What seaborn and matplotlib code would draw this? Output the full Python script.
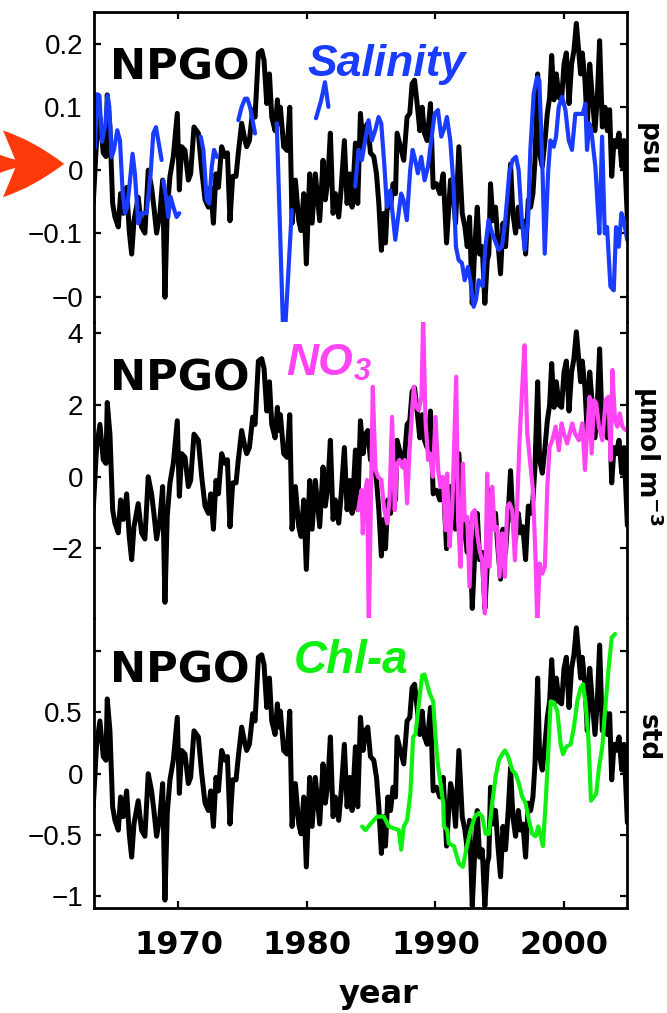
import numpy as np
import pandas as pd
import matplotlib
matplotlib.use("Agg")
import matplotlib.pyplot as plt
import seaborn as sns

# NPGO index (std units)
npgo_year = [1963.37, 1963.63, 1963.89, 1964.15, 1964.36, 1964.46, 1964.67, 1964.88, 1965.06, 1965.32,
             1965.50, 1965.71, 1965.97, 1966.17, 1966.36, 1966.54, 1966.87, 1967.13, 1967.39, 1967.65,
             1967.91, 1968.09, 1968.30, 1968.56, 1968.77, 1968.95, 1969.13, 1969.34, 1969.60, 1969.91,
             1970.07, 1970.25, 1970.51, 1970.77, 1970.95, 1971.21, 1971.55, 1971.81, 1972.07, 1972.33,
             1972.51, 1972.72, 1972.92, 1973.11, 1973.36, 1973.62, 1973.81, 1974.01, 1974.22, 1974.48,
             1974.66, 1974.92, 1975.18, 1975.31, 1975.52, 1975.78, 1975.96, 1976.22, 1976.48, 1976.66,
             1976.87, 1977.08, 1977.26, 1977.52, 1977.70, 1977.80, 1977.93, 1978.19, 1978.45, 1978.66,
             1978.84, 1979.10, 1979.36, 1979.54, 1979.75, 1979.95, 1980.21, 1980.40, 1980.65, 1980.84,
             1980.99, 1981.25, 1981.43, 1981.62, 1981.82, 1982.03, 1982.21, 1982.47, 1982.65, 1982.91,
             1983.12, 1983.33, 1983.51, 1983.77, 1983.95, 1984.16, 1984.37, 1984.55, 1984.73, 1984.94,
             1985.20, 1985.41, 1985.59, 1985.79, 1985.98, 1986.11, 1986.29, 1986.50, 1986.70, 1986.89,
             1987.01, 1987.27, 1987.53, 1987.79, 1988.00, 1988.18, 1988.37, 1988.57, 1988.78, 1988.96,
             1989.14, 1989.35, 1989.61, 1989.82, 1990.08, 1990.34, 1990.60, 1990.86, 1991.17, 1991.35,
             1991.56, 1991.82, 1992.08, 1992.29, 1992.47, 1992.65, 1992.86, 1993.06, 1993.25, 1993.43,
             1993.64, 1993.84, 1994.03, 1994.15, 1994.28, 1994.47, 1994.67, 1994.86, 1995.06, 1995.25,
             1995.45, 1995.66, 1995.84, 1996.02, 1996.23, 1996.44, 1996.62, 1996.80, 1997.01, 1997.22,
             1997.40, 1997.58, 1997.74, 1997.95, 1998.10, 1998.31, 1998.52, 1998.70, 1998.88, 1999.04,
             1999.22, 1999.40, 1999.61, 1999.81, 2000.00, 2000.18, 2000.39, 2000.59, 2000.77, 2000.96,
             2001.11, 2001.29, 2001.42, 2001.63, 2001.81, 2002.00, 2002.20, 2002.41, 2002.59, 2002.77,
             2002.98, 2003.19, 2003.37, 2003.55, 2003.71, 2003.89, 2004.07, 2004.28, 2004.49, 2004.67,
             2004.93]
npgo = [-0.27, 0.24, 0.43, 0.14, 0.11, 0.61, 0.35, -0.27, -0.38, -0.46,
        -0.19, -0.35, -0.14, -0.49, -0.68, -0.41, -0.22, -0.46, -0.51, 0.00,
        -0.14, -0.30, -0.51, -0.35, -0.08, -1.03, -0.32, -0.05, 0.11, 0.46,
        -0.16, 0.19, 0.16, -0.08, -0.03, 0.35, 0.30, 0.00, -0.24, -0.30,
        -0.14, -0.43, -0.03, -0.14, 0.19, 0.11, 0.14, -0.41, -0.05, -0.05,
        0.14, 0.38, 0.24, 0.19, 0.24, 0.49, 0.43, 0.95, 0.97, 0.89,
        0.54, 0.78, 0.43, 0.32, 0.57, 0.38, 0.51, 0.19, 0.16, 0.51,
        -0.43, -0.08, -0.41, -0.49, -0.19, -0.76, -0.03, -0.43, -0.03, -0.24,
        -0.41, 0.08, -0.24, -0.08, 0.30, -0.35, -0.19, -0.38, -0.16, 0.24,
        -0.27, -0.03, -0.30, 0.22, -0.27, 0.46, 0.19, 0.35, 0.38, 0.14,
        0.11, -0.03, -0.27, -0.65, -0.35, -0.59, -0.19, -0.30, -0.11, -0.19,
        0.30, 0.19, 0.08, 0.43, 0.46, 0.70, 0.73, 0.54, 0.32, 0.51,
        0.30, 0.24, 0.54, -0.14, -0.11, -0.19, -0.03, -0.59, -0.08, -0.16,
        -0.43, 0.19, -0.35, -0.46, -0.62, -0.38, -1.08, -0.62, -0.30, -0.68,
        -0.62, -1.08, -0.73, -0.68, -0.11, -0.41, -0.30, -0.59, -0.84, -0.43,
        -0.62, -0.30, 0.05, -0.35, -0.51, -0.30, -0.46, -0.41, -0.68, -0.24,
        -0.30, -0.19, 0.08, 0.78, 0.14, 0.03, 0.24, 0.46, 0.59, 0.93,
        0.57, 0.78, 0.59, 0.57, 0.86, 0.95, 0.54, 0.86, 0.97, 1.19,
        1.00, 0.78, 0.95, 0.73, 0.35, 0.86, 0.59, 0.32, 0.59, 1.05,
        0.35, 0.51, 0.32, 0.49, -0.05, 0.24, 0.19, 0.30, 0.03, 0.24,
        -0.40]

# salinity (psu), NaN marks gaps in the record
sal_year = [1963.37, 1963.50, 1963.68, 1963.85, 1964.05, 1964.30, 1964.48, 1964.62, 1964.80, 1964.98,
            1965.24, 1965.45, 1965.65, 1965.84, 1966.02, 1966.23, 1966.43, 1966.61, 1966.87, 1967.13,
            1967.52, 1967.84, 1968.04, 1968.25, 1968.43, 1968.69, np.nan,
            1968.82, 1969.03, 1969.21, 1969.39, 1969.60, 1969.86, 1970.07, np.nan,
            1971.73, 1971.94, 1972.20, 1972.40, 1972.59, 1972.77, 1972.98, np.nan,
            1974.66, 1974.92, 1975.18, 1975.36, 1975.57, 1975.96, np.nan,
            1977.65, 1978.20, 1978.82, np.nan,
            1980.70, 1981.10, 1981.40, 1981.67, np.nan,
            1983.75, 1984.01, 1984.27, 1984.53, 1984.79, 1985.05, 1985.31, 1985.57, 1985.78, 1986.03,
            1986.22, 1986.48, 1986.66, 1986.87, 1987.13, 1987.33, 1987.51, 1987.77, 1988.03, 1988.22,
            1988.42, 1988.63, 1988.89, 1989.15, 1989.41, 1989.67, 1989.93, 1990.19, 1990.45, 1990.71,
            1990.89, 1991.15, 1991.41, 1991.59, 1991.80, 1992.06, 1992.27, 1992.52, 1992.71, 1992.97,
            1993.15, 1993.36, 1993.67, 1993.88, 1994.13, 1994.34, 1994.60, 1994.91, 1995.17, 1995.43,
            1995.74, 1996.00, 1996.26, 1996.47, 1996.68, 1996.94, 1997.20, 1997.38, 1997.64, 1997.90,
            1998.08, 1998.29, 1998.50, 1998.76, 1998.94, 1999.20, 1999.38, 1999.59, 1999.85, 2000.11,
            2000.37, 2000.62, 2000.88, 2001.20, 2001.46, 2001.66, 2001.79, 2001.97, 2002.18, 2002.44,
            2002.65, 2002.75, 2002.96, 2003.17, 2003.35, 2003.61, 2003.87, 2004.05, 2004.26, 2004.47,
            2004.65, 2004.91]
sal_psu = [0.050, 0.035, 0.120, 0.118, 0.045, 0.070, 0.118, 0.100, 0.021, 0.032,
           0.063, 0.047, -0.032, -0.068, -0.058, -0.016, 0.026, -0.005, -0.084, -0.068,
           -0.068, -0.005, 0.058, 0.068, 0.047, 0.016, np.nan,
           -0.016, -0.042, -0.074, -0.042, -0.058, -0.074, -0.068, np.nan,
           0.053, 0.032, -0.047, -0.053, 0.005, 0.032, 0.021, np.nan,
           0.079, 0.100, 0.113, 0.113, 0.100, 0.058, np.nan,
           0.074, -0.290, -0.063, np.nan,
           0.082, 0.110, 0.139, 0.100, np.nan,
           -0.026, 0.032, 0.016, 0.047, 0.079, 0.047, 0.063, 0.084, 0.074, 0.005,
           -0.058, -0.032, -0.068, -0.110, -0.068, -0.037, -0.047, -0.079, 0.000, 0.032,
           0.016, -0.005, 0.021, -0.016, 0.005, 0.047, 0.089, 0.095, 0.053, 0.068,
           0.084, 0.047, -0.026, -0.121, -0.142, -0.147, -0.174, -0.153, -0.174, -0.216,
           -0.205, -0.174, -0.184, -0.121, -0.079, -0.095, -0.110, -0.126, -0.121, -0.079,
           -0.005, 0.016, 0.021, 0.000, -0.068, -0.126, -0.079, 0.032, 0.121, 0.147,
           0.142, 0.026, -0.132, -0.005, 0.047, 0.037, 0.053, 0.100, 0.116, 0.095,
           0.047, 0.032, 0.089, 0.089, 0.089, 0.105, 0.032, 0.074, 0.053, 0.005,
           -0.068, -0.100, 0.053, -0.100, -0.090, -0.184, -0.190, -0.090, -0.121, -0.068,
           -0.079, -0.110]

# nitrate (umol m-3)
no3_year = [1983.98, 1984.24, 1984.34, 1984.50, 1984.68, 1984.81, 1985.12, 1985.33, 1985.53, 1985.79,
            1985.98, 1986.24, 1986.42, 1986.62, 1986.83, 1987.01, 1987.20, 1987.40, 1987.61, 1987.79,
            1987.97, 1988.18, 1988.31, 1988.49, 1988.70, 1988.91, 1989.04, 1989.22, 1989.43, 1989.61,
            1989.79, 1990.00, 1990.21, 1990.39, 1990.57, 1990.78, 1990.91, 1991.09, 1991.30, 1991.61,
            1991.76, 1991.95, 1992.13, 1992.28, 1992.47, 1992.65, 1992.85, 1993.06, 1993.24, 1993.43,
            1993.63, 1993.84, 1994.02, 1994.21, 1994.41, 1994.62, 1994.80, 1994.98, 1995.19, 1995.40,
            1995.58, 1995.76, 1995.97, 1996.18, 1996.36, 1996.54, 1996.75, 1996.93, 1997.14, 1997.40,
            1997.58, 1997.79, 1997.92, 1998.10, 1998.31, 1998.51, 1998.70, 1998.88, 1999.09, 1999.35,
            1999.60, 1999.81, 1999.99, 2000.25, 2000.44, 2000.64, 2000.85, 2001.16, 2001.42, 2001.63,
            2001.81, 2001.99, 2002.15, 2002.33, 2002.51, 2002.72, 2002.98, 2003.24, 2003.45, 2003.63,
            2003.76, 2003.97, 2004.15, 2004.33, 2004.54, 2004.80]
no3 = [-0.93, -0.37, -1.58, -0.47, -0.09, -4.30, 2.51, 0.19, 0.00, -0.09,
       -0.84, -1.30, -0.65, 1.67, -0.93, 0.37, 0.47, 0.28, 0.47, -0.74,
       0.65, 1.86, 2.51, 1.95, 1.86, 2.23, 4.50, 1.58, 0.47, 0.65,
       0.00, 1.67, 0.19, -0.28, 0.00, -1.49, 0.09, -1.95, -0.93, 2.79,
       -1.21, -2.51, 0.37, -1.21, -1.12, -3.07, -1.02, -0.93, -1.58, -2.05,
       -2.33, -3.81, 0.09, -2.51, -0.28, -1.49, -1.40, -2.79, -1.58, -2.79,
       -0.84, -0.74, -0.93, -2.33, -0.74, 1.02, 2.51, 3.67, 1.21, 0.28,
       -0.37, -2.33, -4.20, -2.42, -2.70, -2.51, -0.28, 0.84, 1.02, 1.40,
       0.74, 1.49, 1.21, 0.93, 1.21, 1.49, 1.21, 1.02, 1.49, 0.19,
       1.30, 2.23, 0.65, 2.14, 2.05, 1.40, 1.02, 2.14, 2.23, 0.47,
       2.98, 1.58, 1.40, 1.77, 1.40, 1.30]

# chlorophyll-a (std)
chl_year = [1984.29, 1984.55, 1984.94, 1985.46, 1985.98, 1986.37, 1986.89, 1987.14, 1987.33, 1987.53,
            1987.79, 1988.05, 1988.26, 1988.44, 1988.70, 1988.96, 1989.14, 1989.35, 1989.56, 1989.82,
            1990.00, 1990.18, 1990.39, 1990.60, 1990.65, 1990.91, 1991.04, 1991.43, 1991.82, 1992.13,
            1992.39, 1992.73, 1993.06, 1993.38, 1993.64, 1993.90, 1994.15, 1994.41, 1994.67, 1994.93,
            1995.19, 1995.40, 1995.66, 1995.97, 1996.23, 1996.49, 1996.75, 1997.01, 1997.27, 1997.53,
            1997.79, 1998.00, 1998.18, 1998.36, 1998.57, 1998.78, 1998.96, 1999.22, 1999.48, 1999.74,
            1999.92, 2000.18, 2000.52, 2000.77, 2001.03, 2001.29, 2001.48, 2001.68, 2001.89, 2001.99,
            2002.10, 2002.33, 2002.51, 2002.72, 2002.98, 2003.19, 2003.45, 2003.71, 2003.97]
chl = [-0.43, -0.46, -0.41, -0.35, -0.35, -0.43, -0.45, -0.46, -0.62, -0.43,
       -0.38, -0.16, 0.30, 0.32, 0.57, 0.80, 0.81, 0.73, 0.65, 0.59,
       0.30, 0.08, -0.08, -0.24, -0.43, -0.46, -0.57, -0.59, -0.73, -0.76,
       -0.62, -0.46, -0.35, -0.32, -0.35, -0.49, -0.49, -0.24, -0.03, 0.11,
       0.16, 0.19, 0.14, 0.03, 0.00, -0.08, -0.19, -0.24, -0.38, -0.49,
       -0.51, -0.43, -0.51, -0.59, -0.24, 0.19, 0.59, 0.58, 0.51, 0.24,
       0.16, 0.22, 0.24, 0.38, 0.59, 0.70, 0.73, 0.57, 0.30, 0.05,
       -0.22, -0.19, -0.16, 0.05, 0.22, 0.51, 0.84, 1.11, 1.14]

# NPGO is drawn in the units of each panel
npgo_scale = [0.195, 3.4, 1.0]

BLUE = "#1a3cff"
PINK = "#ff44f4"
GREEN = "#10f010"

sns.set_style("ticks")
plt.rcParams["font.family"] = ["Liberation Sans", "DejaVu Sans"]
plt.rcParams["mathtext.fontset"] = "dejavusans"
for key in ["text.color", "axes.labelcolor", "xtick.color", "ytick.color", "axes.edgecolor"]:
    plt.rcParams[key] = "black"

fig = plt.figure(figsize=(6.67, 10.13), dpi=100)
left, width = 94 / 667, 533 / 667
ax1 = fig.add_axes([left, (1013 - 322) / 1013, width, 310 / 1013])
ax2 = fig.add_axes([left, (1013 - 618) / 1013, width, 296 / 1013])
ax3 = fig.add_axes([left, (1013 - 908) / 1013, width, 290 / 1013])
axes = [ax1, ax2, ax3]

npgo_df = pd.DataFrame({"year": npgo_year, "npgo": npgo})

sal_df = pd.DataFrame({"year": sal_year, "val": sal_psu})
sal_df["seg"] = sal_df["val"].isna().cumsum()
sal_df = sal_df.dropna()
no3_df = pd.DataFrame({"year": no3_year, "val": no3, "seg": 0})
chl_df = pd.DataFrame({"year": chl_year, "val": chl, "seg": 0})

series = [(sal_df, BLUE), (no3_df, PINK), (chl_df, GREEN)]
ylims = [(-0.24, 0.25), (-3.94, 4.32), (-1.095, 1.27)]
yticks = [[-0.2, -0.1, 0, 0.1, 0.2], [-2, 0, 2, 4], [-1, -0.5, 0, 0.5, 1]]
yticklabels = [["\u22120", "\u22120.1", "0", "0.1", "0.2"],
               ["\u22122", "0", "2", "4"],
               ["\u22121", "\u22120.5", "0", "0.5", ""]]
units = ["psu", "\u00b5mol m$^{\\mathbf{-3}}$", "std"]
unit_y = [0.555, 0.547, 0.586]

for i, ax in enumerate(axes):
    d = npgo_df.copy()
    d["npgo"] = d["npgo"] * npgo_scale[i]
    sns.lineplot(data=d, x="year", y="npgo", color="black", linewidth=3.6,
                 estimator=None, sort=False, ax=ax)
    df, col = series[i]
    sns.lineplot(data=df, x="year", y="val", units="seg", color=col, linewidth=3.0,
                 estimator=None, sort=False, ax=ax)
    ax.set_xlim(1963.43, 2004.9)
    ax.set_ylim(*ylims[i])
    ax.set_yticks(yticks[i])
    ax.set_yticklabels(yticklabels[i])
    ax.set_xticks([1970, 1980, 1990, 2000])
    ax.set_xlabel("")
    ax.set_ylabel("")
    ax.patch.set_alpha(0)
    for s in ax.spines.values():
        s.set_linewidth(2.0)
    ax.spines["top"].set_visible(i == 0)
    ax.spines["bottom"].set_visible(i == 2)
    ax.tick_params(axis="y", direction="in", length=5, width=1.6,
                   left=True, right=True, labelsize=20, pad=8)
    ax.tick_params(axis="x", direction="in", length=5, width=1.6,
                   top=(i == 0), bottom=(i == 2), labelbottom=(i == 2),
                   labeltop=False, pad=16)
    ax.text(0.03, [0.781, 0.770, 0.779][i], "NPGO", transform=ax.transAxes,
            fontsize=31, fontweight="bold", family="DejaVu Sans", va="baseline")
    ax.text(1.039, unit_y[i], units[i], transform=ax.transAxes, rotation=-90,
            fontsize=19, fontweight="bold", family="DejaVu Sans",
            ha="center", va="center")

for lab in ax3.get_xticklabels():
    lab.set_fontfamily("DejaVu Sans")
    lab.set_fontweight("bold")
    lab.set_fontsize(23)

ax1.text(0.40, 0.794, "Salinity", transform=ax1.transAxes, color=BLUE,
         fontsize=32, fontweight="bold", style="italic", va="baseline")
ax2.text(0.36, 0.821, "NO", transform=ax2.transAxes, color=PINK,
         fontsize=32, fontweight="bold", style="italic", va="baseline")
ax2.text(0.488, 0.804, "3", transform=ax2.transAxes, color=PINK,
         fontsize=22, fontweight="bold", style="italic", va="baseline")
ax3.text(0.375, 0.81, "Chl-a", transform=ax3.transAxes, color=GREEN,
         fontsize=33, fontweight="bold", style="italic", va="baseline")

fig.text(0.567, 0.0099, "year", ha="center", va="baseline",
         fontsize=23, fontweight="bold", family="DejaVu Sans")

# red arrow pointing at the zero line of the salinity panel
ax1.annotate("", xy=(-0.056, 0.01), xycoords=("axes fraction", "data"),
             xytext=(-0.2, 0.01), textcoords=("axes fraction", "data"),
             arrowprops=dict(arrowstyle="fancy,head_length=1.1,head_width=1.2,tail_width=0.5",
                             fc="#ff3a0a", ec="none", shrinkA=0, shrinkB=0,
                             mutation_scale=40),
             annotation_clip=False)

fig.savefig("out.png", dpi=100)
